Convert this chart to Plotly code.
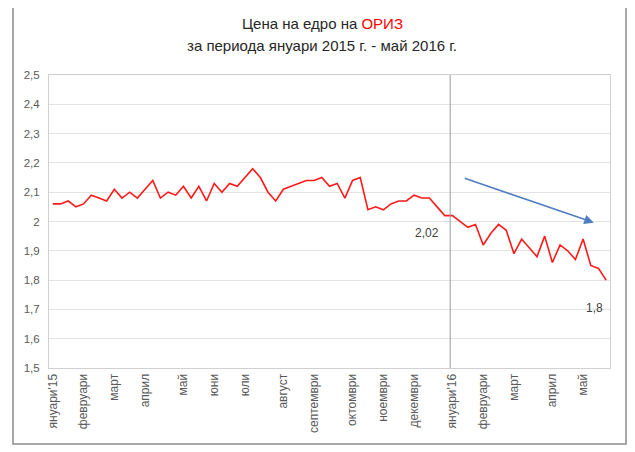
import plotly.graph_objects as go

# Weekly wholesale rice prices, Jan 2015 - May 2016
prices = [2.06, 2.06, 2.07, 2.05, 2.06, 2.09, 2.08, 2.07, 2.11, 2.08,
          2.10, 2.08, 2.11, 2.14, 2.08, 2.10, 2.09, 2.12, 2.08, 2.12,
          2.07, 2.13, 2.10, 2.13, 2.12, 2.15, 2.18, 2.15, 2.10, 2.07,
          2.11, 2.12, 2.13, 2.14, 2.14, 2.15, 2.12, 2.13, 2.08, 2.14,
          2.15, 2.04, 2.05, 2.04, 2.06, 2.07, 2.07, 2.09, 2.08, 2.08,
          2.05, 2.02, 2.02, 2.00, 1.98, 1.99, 1.92, 1.96, 1.99, 1.97,
          1.89, 1.94, 1.91, 1.88, 1.95, 1.86, 1.92, 1.90, 1.87, 1.94,
          1.85, 1.84, 1.80]
weeks = list(range(len(prices)))

month_ticks = [0, 4, 8, 12, 17, 21, 25, 30, 34, 39, 43, 47, 52, 56, 60, 65, 69]
month_labels = ["януари'15", "февруари", "март", "април", "май", "юни", "юли",
                "август", "септември", "октомври", "ноември", "декември",
                "януари'16", "февруари", "март", "април", "май"]

y_ticks = [1.5, 1.6, 1.7, 1.8, 1.9, 2.0, 2.1, 2.2, 2.3, 2.4, 2.5]
y_labels = ["1,5", "1,6", "1,7", "1,8", "1,9", "2", "2,1", "2,2", "2,3", "2,4", "2,5"]

# page body adds an 8px margin, so lay out in reference pixels minus 8
OFF = 8
W, H = 635 - OFF, 452 - OFF
L, R, T, B = 49 - OFF, 610 - OFF, 75 - OFF, 368 - OFF


def px(xp):
    return (xp - OFF - L) / (R - L)


def py(yp):
    return (B - (yp - OFF)) / (B - T)


fig = go.Figure()
fig.add_trace(go.Scatter(x=weeks, y=prices, mode="lines",
                         line=dict(color="#ff1a1a", width=1.6),
                         hoverinfo="skip", showlegend=False))

fig.update_layout(
    width=W, height=H,
    margin=dict(l=L, r=W - R, t=T, b=H - B),
    paper_bgcolor="white", plot_bgcolor="white",
    font=dict(family="Liberation Sans, Arial, sans-serif", color="#595959"),
    showlegend=False,
    xaxis=dict(range=[-0.5, len(prices) - 0.5], tickmode="array",
               tickvals=month_ticks, ticktext=month_labels, tickangle=-90,
               tickfont=dict(size=12, color="#595959"),
               showgrid=False, zeroline=False, showline=True,
               linecolor="#d0d0d0", linewidth=1, mirror=True, ticks=""),
    yaxis=dict(range=[1.5, 2.5], tickmode="array", tickvals=y_ticks,
               ticktext=y_labels, tickfont=dict(size=11.5, color="#595959"),
               showgrid=True, gridcolor="#e3e3e3", gridwidth=1,
               zeroline=False, showline=True, linecolor="#d0d0d0",
               linewidth=1, mirror=True, ticks="", ticklabelstandoff=6),
)

# vertical separator at January 2016
fig.add_shape(type="line", xref="x", yref="y", x0=52 - 0.3, x1=52 - 0.3,
              y0=1.5, y1=2.5, line=dict(color="#9a9a9a", width=1))

# outer frame
fig.add_shape(type="rect", xref="paper", yref="paper",
              x0=px(13), x1=px(626), y0=py(444), y1=py(5),
              line=dict(color="#8c8c8c", width=1.5), layer="below")

# trend arrow
fig.add_annotation(x=70.4, y=1.996, ax=53.4, ay=2.149, xref="x", yref="y",
                   axref="x", ayref="y", showarrow=True, arrowhead=2,
                   arrowsize=1.2, arrowwidth=1.6, arrowcolor="#4f7fc0", text="")

# data labels
fig.add_annotation(x=52, y=prices[52], xref="x", yref="y", text="2,02",
                   showarrow=False, xshift=-25, yshift=-17,
                   font=dict(size=12, color="#404040"))
fig.add_annotation(x=72, y=prices[72], xref="x", yref="y", text="1,8",
                   showarrow=False, xshift=-12, yshift=-28,
                   font=dict(size=12, color="#404040"))

# title
fig.add_annotation(x=px(322), y=py(23), xref="paper", yref="paper",
                   xanchor="center", yanchor="middle",
                   text="Цена на едро на <span style='color:#ff0000'>ОРИЗ</span>",
                   showarrow=False, font=dict(size=15, color="#262626"))
fig.add_annotation(x=px(322), y=py(45), xref="paper", yref="paper",
                   xanchor="center", yanchor="middle",
                   text="за периода януари 2015 г. - май 2016 г.",
                   showarrow=False, font=dict(size=15, color="#262626"))

fig.write_html("out.html")
